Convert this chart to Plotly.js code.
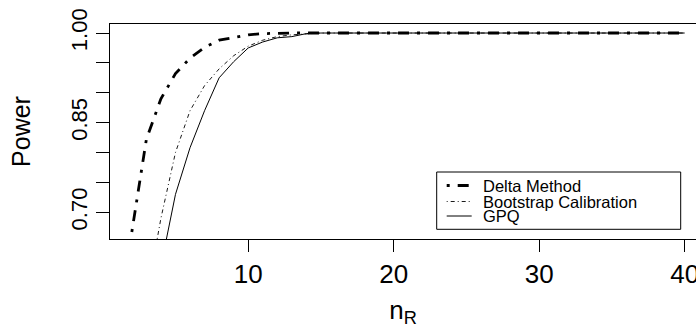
<!DOCTYPE html>
<html>
<head>
<meta charset="utf-8">
<script src="https://cdn.plot.ly/plotly-3.0.1.min.js"></script>
<style>
  html, body { margin: 0; padding: 0; background: #ffffff; }
  #chart { width: 696px; height: 334px; }
</style>
</head>
<body>
<div id="chart"></div>
<script>
// ---- data ----
const nR = [2, 3, 4, 5, 6, 7, 8, 9, 10, 11, 12, 13, 14, 15, 16, 17, 18, 19, 20, 21,
            22, 23, 24, 25, 26, 27, 28, 29, 30, 31, 32, 33, 34, 35, 36, 37, 38, 39, 40];

const deltaMethod = [0.667, 0.822, 0.890, 0.932, 0.958, 0.976, 0.988, 0.993, 0.997, 0.999,
                     1, 1, 1, 1, 1, 1, 1, 1, 1, 1,
                     1, 1, 1, 1, 1, 1, 1, 1, 1, 1,
                     1, 1, 1, 1, 1, 1, 1, 1, 1];

const bootstrapCalibration = [0.420, 0.556, 0.690, 0.800, 0.870, 0.912, 0.940, 0.962, 0.978, 0.988,
                              0.994, 0.997, 0.999, 1, 1, 1, 1, 1, 1, 1,
                              1, 1, 1, 1, 1, 1, 1, 1, 1, 1,
                              1, 1, 1, 1, 1, 1, 1, 1, 1];

const gpq = [0.350, 0.480, 0.610, 0.730, 0.808, 0.870, 0.925, 0.952, 0.975, 0.985,
             0.992, 0.994, 0.999, 1, 1, 1, 1, 1, 1, 1,
             1, 1, 1, 1, 1, 1, 1, 1, 1, 1,
             1, 1, 1, 1, 1, 1, 1, 1, 1];

const seriesNames = ['Delta Method', 'Bootstrap Calibration', 'GPQ'];
const xTickVals = [10, 20, 30, 40];
const yLabelStart = 0.70, yLabelStep = 0.15, yMinorStep = 0.05;

// ---- styles ----
const FONT = 'Liberation Sans, Arial, Helvetica, sans-serif';
const styles = [
  {width: 2.8, dash: '3px,8px,11px,8px'},
  {width: 0.9, dash: '1px,3px,4px,3px'},
  {width: 1.0, dash: 'solid'}
];
const values = [deltaMethod, bootstrapCalibration, gpq];

const traces = values.map((v, i) => ({
  type: 'scatter',
  mode: 'lines',
  x: nR,
  y: v,
  name: seriesNames[i],
  line: {color: '#000000', width: styles[i].width, dash: styles[i].dash},
  showlegend: false,
  hoverinfo: 'skip'
}));

// plot area in pixels: left 110, right 696, top 24, bottom 239
const L = 110, R = 696, T = 24, B = 239;
const px2x = p => (p - L) / (R - L);
const py2y = p => (B - p) / (B - T);

// custom R-style legend
const legBox = {x0: 436.7, x1: 680.7, y0: 172, y1: 229.3};
const rowY = [185.5, 201.5, 216];
const sampleX0 = 446.7, sampleX1 = 471.7, textX = 481;

const shapes = [{
  type: 'rect', xref: 'paper', yref: 'paper', layer: 'above',
  x0: px2x(legBox.x0), x1: px2x(legBox.x1), y0: py2y(legBox.y1), y1: py2y(legBox.y0),
  line: {color: '#000000', width: 1}, fillcolor: '#ffffff'
}];
const annotations = [];
seriesNames.forEach((name, i) => {
  shapes.push({
    type: 'line', xref: 'paper', yref: 'paper', layer: 'above',
    x0: px2x(sampleX0), x1: px2x(sampleX1), y0: py2y(rowY[i]), y1: py2y(rowY[i]),
    line: {color: '#000000', width: styles[i].width, dash: styles[i].dash}
  });
  annotations.push({
    xref: 'paper', yref: 'paper', x: px2x(textX), y: py2y(rowY[i]),
    xanchor: 'left', yanchor: 'middle', showarrow: false,
    text: name, font: {family: FONT, size: 16.5, color: '#000000'}
  });
});

const layout = {
  width: 696, height: 334,
  margin: {l: L, r: 696 - R, t: T, b: 334 - B, pad: 0},
  paper_bgcolor: '#ffffff', plot_bgcolor: '#ffffff',
  font: {family: FONT, color: '#000000'},
  showlegend: false,
  xaxis: {
    range: [0.5, 40.78], tickmode: 'array', tickvals: xTickVals,
    ticks: 'outside', ticklen: 12, tickwidth: 1, tickcolor: '#000000',
    ticklabeloverflow: 'allow',
    showline: true, linecolor: '#000000', linewidth: 1, mirror: true,
    showgrid: false, zeroline: false, automargin: false,
    tickfont: {family: FONT, size: 26, color: '#000000'},
    title: {text: 'n<sub>R</sub>', font: {family: FONT, size: 26, color: '#000000'}, standoff: 12}
  },
  yaxis: {
    range: [0.6553, 1.0151], tickmode: 'linear', tick0: yLabelStart, dtick: yLabelStep,
    tickformat: '.2f',
    tickangle: -90,
    ticks: 'outside', ticklen: 13, tickwidth: 1, tickcolor: '#000000',
    minor: {tick0: yLabelStart, dtick: yMinorStep, ticks: 'outside', ticklen: 13, tickwidth: 1,
            tickcolor: '#000000', showgrid: false},
    showline: true, linecolor: '#000000', linewidth: 1, mirror: false,
    showgrid: false, zeroline: false, automargin: false,
    tickfont: {family: FONT, size: 22, color: '#000000'},
    title: {text: 'Power', font: {family: FONT, size: 25, color: '#000000'}, standoff: 29}
  },
  shapes: shapes,
  annotations: annotations
};

Plotly.newPlot('chart', traces, layout, {displayModeBar: false, staticPlot: true});
</script>
</body>
</html>
